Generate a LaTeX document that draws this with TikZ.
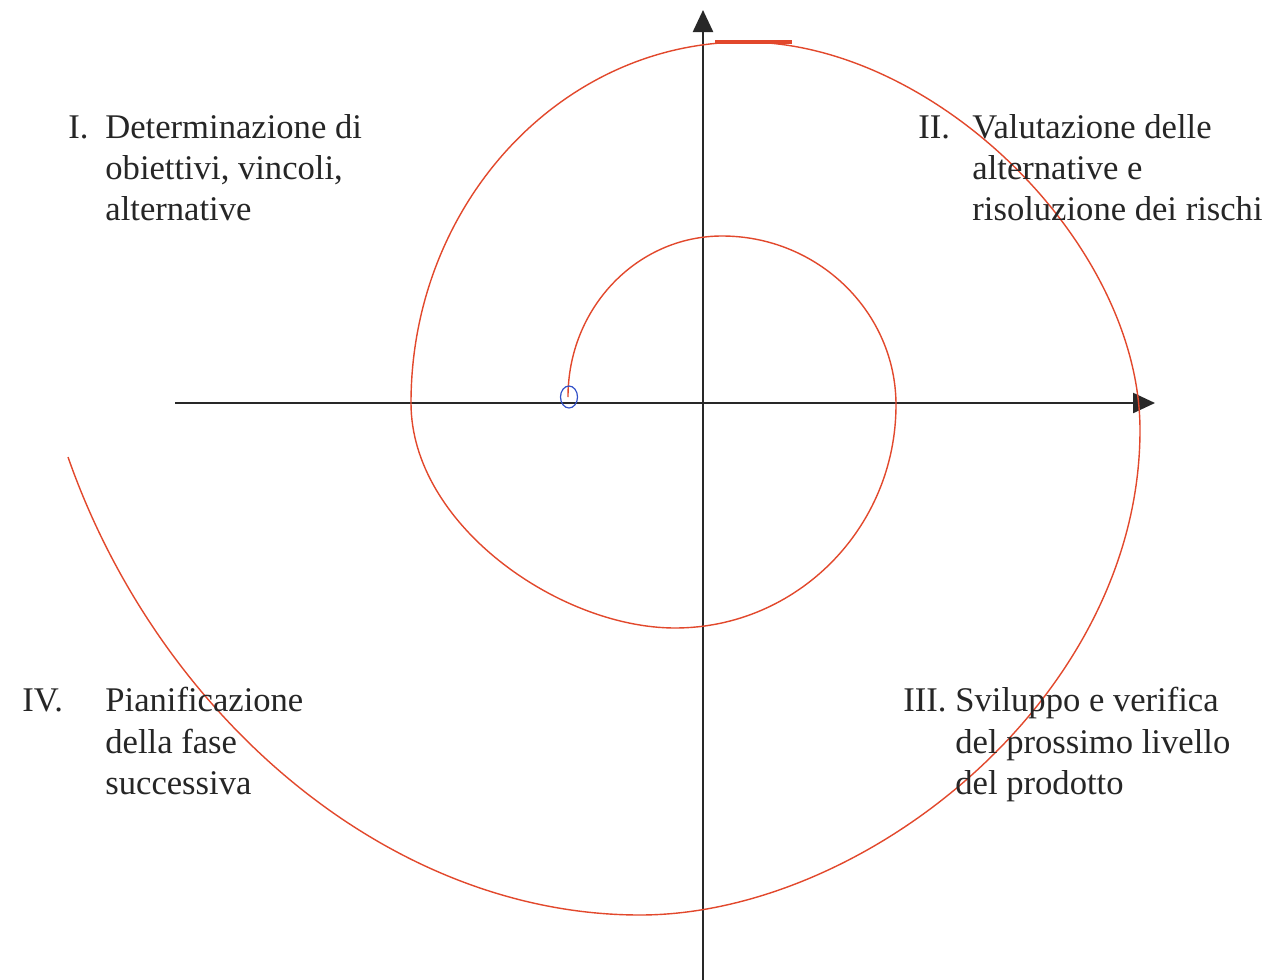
\documentclass[tikz,border=0pt]{standalone}
\usepackage{fontspec}
\setmainfont{Liberation Serif}
\usetikzlibrary{arrows.meta,shapes.geometric}
\definecolor{spiralred}{RGB}{226,72,44}
\definecolor{axisgray}{RGB}{40,40,40}
\definecolor{startblue}{RGB}{50,80,200}
\tikzset{
  axisline/.style={draw=axisgray, line width=1.2pt, -{Triangle[length=11pt,width=10pt]}},
  spiralline/.style={draw=spiralred, line width=0.7pt},
  lbl/.style={anchor=base west, inner sep=0pt, font=\fontsize{17.3}{20.5}\selectfont, text=black!85}
}
\begin{document}
\begin{tikzpicture}[x=0.5pt, y=-0.5pt]
\useasboundingbox (0,0) rectangle (1276,980);
\fill[white] (0,0) rectangle (1276,980);
% axes
\coordinate (ybot) at (703,980);
\coordinate (ytop) at (703,10);
\coordinate (xleft) at (175,403);
\coordinate (xright) at (1155,403);
\draw[axisline] (ybot) -- (ytop);
\draw[axisline] (xleft) -- (xright);
% spiral key points
\coordinate (L0) at (568,397);
\coordinate (T1) at (722,236);
\coordinate (R1) at (896,405);
\coordinate (B1) at (675,628);
\coordinate (L1) at (411,403);
\coordinate (T2) at (745,42);
\coordinate (R2) at (1140,430);
\coordinate (B2) at (640,915);
\coordinate (E)  at (68,457);
\draw[spiralline]
  (L0) .. controls (568,308) and (637,236) .. (T1)
       .. controls (818,236) and (896,312) .. (R1)
       .. controls (896,528) and (797,628) .. (B1)
       .. controls (560,628) and (411,525) .. (L1)
       .. controls (411,204) and (561,42) .. (T2)
       .. controls (935,42) and (1140,244) .. (R2)
       .. controls (1140,697) and (865,915) .. (B2)
       .. controls (390,915) and (159,717) .. (E);
\coordinate (segA) at (715,42);
\coordinate (segB) at (792,42);
\draw[draw=spiralred, line width=2pt] (segA) -- (segB);
% start marker
\node[draw=startblue, line width=0.6pt, ellipse, minimum width=8.5pt, minimum height=11pt, inner sep=0pt] (start) at (569,397) {};
% labels
\node[lbl] (n1) at (68,138) {I.};
\node[lbl] (t1a) at (105,138) {Determinazione di};
\node[lbl] (t1b) at (105,179) {obiettivi, vincoli,};
\node[lbl] (t1c) at (105,220) {alternative};
\node[lbl] (n2) at (918,138) {II.};
\node[lbl] (t2a) at (972,138) {Valutazione delle};
\node[lbl] (t2b) at (972,179) {alternative e};
\node[lbl] (t2c) at (972,220) {risoluzione dei rischi};
\node[lbl] (n3) at (903,711) {III.};
\node[lbl] (t3a) at (955,711) {Sviluppo e verifica};
\node[lbl] (t3b) at (955,753) {del prossimo livello};
\node[lbl] (t3c) at (955,794) {del prodotto};
\node[lbl] (n4) at (22,711) {IV.};
\node[lbl] (t4a) at (105,711) {Pianificazione};
\node[lbl] (t4b) at (105,753) {della fase};
\node[lbl] (t4c) at (105,794) {successiva};
\end{tikzpicture}
\end{document}
